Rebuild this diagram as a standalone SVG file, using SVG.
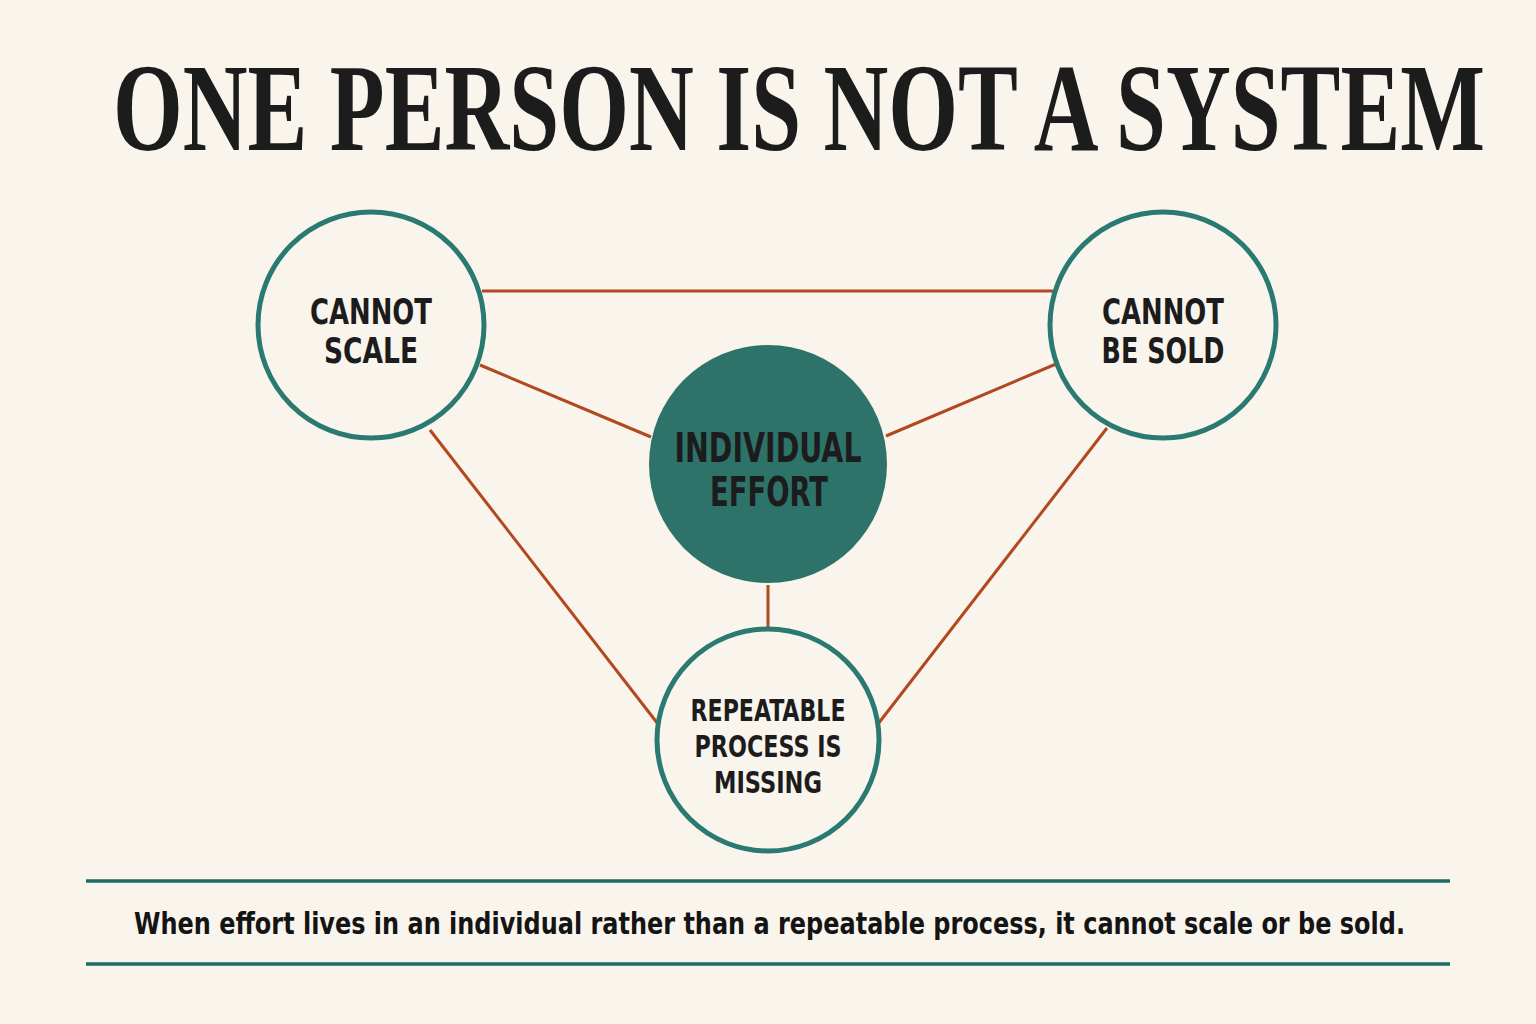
<svg xmlns="http://www.w3.org/2000/svg" width="1536" height="1024" viewBox="0 0 1536 1024">
<style>
.title{font-family:"Liberation Serif","DejaVu Serif",serif;font-weight:bold;font-size:124px;fill:#1c1c1c}
.lbl{font-family:"DejaVu Sans Condensed","DejaVu Sans","Liberation Sans",sans-serif;font-weight:bold;fill:#1c1c1c;text-anchor:middle}
.cap{font-family:"DejaVu Sans Condensed","DejaVu Sans","Liberation Sans",sans-serif;font-weight:bold;font-size:30px;fill:#141414}
.ring{fill:#f9f4ec;stroke:#2a7a72;stroke-width:5}
.hub{fill:#2e7369}
.link{stroke:#b2481e;stroke-width:3;fill:none}
.rule{stroke:#1f6b63;stroke-width:3.5}
</style>
<rect width="1536" height="1024" fill="#f9f4ec"/>
<text class="title" x="113" y="150" textLength="1372" lengthAdjust="spacingAndGlyphs">ONE PERSON IS NOT A SYSTEM</text>
<g id="connectors">
<line class="link" x1="482" y1="291" x2="1053" y2="291"/>
<line class="link" x1="480" y1="365" x2="651" y2="437"/>
<line class="link" x1="1056" y1="364" x2="886" y2="436"/>
<line class="link" x1="430" y1="430" x2="658" y2="724"/>
<line class="link" x1="1107" y1="428" x2="878" y2="724"/>
<line class="link" x1="768" y1="585" x2="768" y2="627"/>
</g>
<g id="node-cannot-scale">
<circle class="ring" cx="371" cy="325" r="113"/>
<text class="lbl" font-size="36" x="371" y="324" textLength="122" lengthAdjust="spacingAndGlyphs">CANNOT</text>
<text class="lbl" font-size="36" x="371" y="363" textLength="94" lengthAdjust="spacingAndGlyphs">SCALE</text>
</g>
<g id="node-cannot-be-sold">
<circle class="ring" cx="1163" cy="325" r="113"/>
<text class="lbl" font-size="36" x="1163" y="324" textLength="122" lengthAdjust="spacingAndGlyphs">CANNOT</text>
<text class="lbl" font-size="36" x="1163" y="363" textLength="123" lengthAdjust="spacingAndGlyphs">BE SOLD</text>
</g>
<g id="node-individual-effort">
<circle class="hub" cx="768" cy="464" r="119"/>
<text class="lbl" font-size="40" x="768" y="462" textLength="187" lengthAdjust="spacingAndGlyphs">INDIVIDUAL</text>
<text class="lbl" font-size="40" x="769" y="506" textLength="118" lengthAdjust="spacingAndGlyphs">EFFORT</text>
</g>
<g id="node-repeatable-process">
<circle class="ring" cx="768" cy="740" r="111"/>
<text class="lbl" font-size="31" x="768" y="721" textLength="155" lengthAdjust="spacingAndGlyphs">REPEATABLE</text>
<text class="lbl" font-size="31" x="768" y="757" textLength="147" lengthAdjust="spacingAndGlyphs">PROCESS IS</text>
<text class="lbl" font-size="31" x="768" y="793" textLength="108" lengthAdjust="spacingAndGlyphs">MISSING</text>
</g>
<g id="caption">
<line class="rule" x1="86" y1="881" x2="1450" y2="881"/>
<line class="rule" x1="86" y1="964" x2="1450" y2="964"/>
<text class="cap" x="134" y="934" textLength="1271" lengthAdjust="spacingAndGlyphs">When effort lives in an individual rather than a repeatable process, it cannot scale or be sold.</text>
</g>
</svg>
